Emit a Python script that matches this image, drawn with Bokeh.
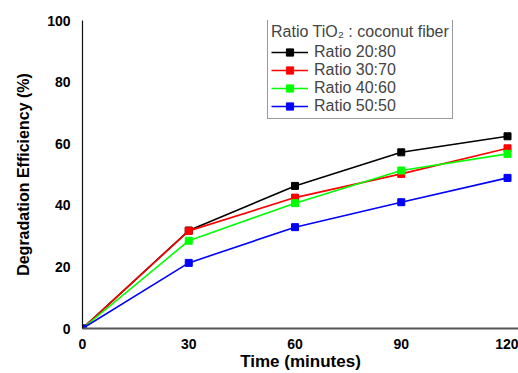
from bokeh.plotting import figure
from bokeh.models import Legend, LegendItem, FixedTicker, Range1d
from bokeh.embed import file_html
from bokeh.resources import INLINE

time_min = [0, 30, 60, 90, 120]
ratio_20_80 = [0, 31.8, 46.3, 57.2, 62.4]
ratio_30_70 = [0, 31.7, 42.5, 50.2, 58.5]
ratio_40_60 = [0, 28.5, 40.7, 51.3, 56.7]
ratio_50_50 = [0, 21.3, 32.9, 41.0, 48.9]
series_names = ["Ratio 20:80", "Ratio 30:70", "Ratio 40:60", "Ratio 50:50"]
series_colors = ["#000000", "#ff0000", "#00ff00", "#0000ff"]
x_ticks = [0, 30, 60, 90, 120]
y_ticks = [0, 20, 40, 60, 80, 100]

FONT = "Liberation Sans"

p = figure(width=518, height=373, output_backend="svg", toolbar_location=None,
           x_range=Range1d(0, 123.1), y_range=Range1d(0, 100),
           min_border_left=82, min_border_right=0, min_border_top=20,
           min_border_bottom=45)
p.outline_line_color = None
p.xgrid.visible = False
p.ygrid.visible = False
p.background_fill_color = "white"

items = []
for name, col, vals in zip(series_names, series_colors,
                           [ratio_20_80, ratio_30_70, ratio_40_60, ratio_50_50]):
    lr = p.line(time_min, vals, line_color=col, line_width=1.6)
    sr = p.scatter(time_min, vals, marker="square", size=7,
                   fill_color=col, line_color=col)
    items.append(LegendItem(label=name, renderers=[lr, sr]))

for ax in (p.xaxis[0], p.yaxis[0]):
    ax.axis_line_color = "#333333"
    ax.axis_line_width = 1.5
    ax.major_tick_line_color = None
    ax.minor_tick_line_color = None
    ax.major_label_text_font = FONT
    ax.major_label_text_font_style = "bold"
    ax.major_label_text_font_size = "14px"
    ax.major_label_text_color = "#000000"
    ax.axis_label_text_font = FONT
    ax.axis_label_text_font_style = "bold"
    ax.axis_label_text_color = "#000000"

p.xaxis.axis_line_color = "#555555"
p.xaxis.axis_line_width = 2
p.yaxis.axis_line_color = "#111111"
p.yaxis.axis_line_width = 1.2

p.xaxis.ticker = FixedTicker(ticks=x_ticks)
p.yaxis.ticker = FixedTicker(ticks=y_ticks)
p.xaxis.axis_label = "Time (minutes)"
p.yaxis.axis_label = "Degradation Efficiency (%)"
p.xaxis.axis_label_text_font_size = "17px"
p.yaxis.axis_label_text_font_size = "16px"
p.xaxis.major_label_standoff = 4
p.xaxis.axis_label_standoff = 0
p.yaxis.major_label_standoff = 6
p.yaxis.axis_label_standoff = 12

legend = Legend(items=items, location=(185, 209),
                title="Ratio TiO\u2082 : coconut fiber",
                title_text_font=FONT, title_text_font_size="16px",
                title_text_font_style="normal", title_standoff=2,
                label_text_font=FONT, label_text_font_size="16px",
                glyph_width=37, glyph_height=18, label_height=18,
                label_standoff=6, spacing=0, padding=3, margin=0,
                border_line_color="#333333", border_line_width=1,
                background_fill_alpha=1.0)
p.add_layout(legend)

open("out.html", "w").write(file_html(p, INLINE))
